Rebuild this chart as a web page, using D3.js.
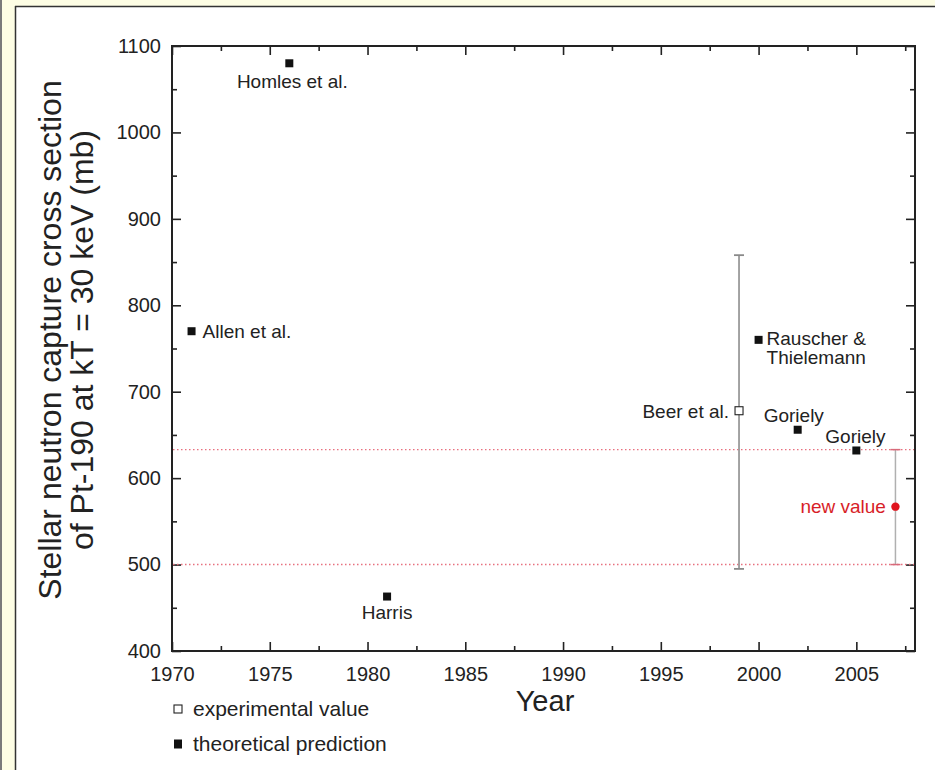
<!DOCTYPE html>
<html>
<head>
<meta charset="utf-8">
<script src="https://cdn.jsdelivr.net/npm/d3@7"></script>
<style>
  html, body { margin: 0; padding: 0; background: #ffffff; }
  svg { display: block; font-family: "Liberation Sans", Arial, sans-serif; }
</style>
</head>
<body>
<svg id="chart" width="935" height="770"></svg>
<script>
// ---------- data ----------
const theoryNames  = ["Allen et al.", "Homles et al.", "Harris", "Rauscher & Thielemann", "Goriely", "Goriely"];
const theoryYears  = [1971, 1976, 1981, 2000, 2002, 2005];
const theoryValues = [770, 1080, 463, 760, 656, 632];

const expNames  = ["Beer et al."];
const expYears  = [1999];
const expValues = [678];
const expLow    = [495];
const expHigh   = [858];

const newNames  = ["new value"];
const newYears  = [2007];
const newValues = [567];
const newLow    = [500];
const newHigh   = [633];

const bandValues = [633, 500];

const xTicks = [1970, 1975, 1980, 1985, 1990, 1995, 2000, 2005];
const yTicks = [400, 500, 600, 700, 800, 900, 1000, 1100];
const xDomain = [1970, 2008];
const yDomain = [400, 1100];

const legendLabels = ["experimental value", "theoretical prediction"];

// ---------- layout ----------
const svg = d3.select("#chart");
const W = 935, H = 770;
const L = 172, R = 915, T = 46, B = 651;

// frame
svg.append("rect").attr("x", 0).attr("y", 0).attr("width", W).attr("height", H).attr("fill", "#ffffff");
svg.append("rect").attr("x", 0).attr("y", 0).attr("width", W).attr("height", 6).attr("fill", "#fdfde4");
svg.append("rect").attr("x", 0).attr("y", 0).attr("width", 16).attr("height", H).attr("fill", "#fdfde4");
svg.append("rect").attr("x", 0).attr("y", 0).attr("width", 2).attr("height", H).attr("fill", "#7a7a7a");
svg.append("line").attr("x1", 15.5).attr("x2", 15.5).attr("y1", 6).attr("y2", H).attr("stroke", "#333").attr("stroke-width", 1.5);
svg.append("line").attr("x1", 15).attr("x2", W).attr("y1", 6.5).attr("y2", 6.5).attr("stroke", "#333").attr("stroke-width", 1.5);

const x = d3.scaleLinear().domain(xDomain).range([L, R]);
const y = d3.scaleLinear().domain(yDomain).range([B, T]);

const xMinor = d3.range(xDomain[0], xDomain[1] + 0.01, 2.5).filter(v => !xTicks.includes(v));
const yMinor = d3.range(yDomain[0], yDomain[1] + 0.01, 50).filter(v => !yTicks.includes(v));

const axisColor = "#222";

function styleAxis(g) {
  g.select(".domain").remove();
  g.attr("font-size", 20).attr("font-family", "Liberation Sans, Arial, sans-serif");
  g.selectAll(".tick line").attr("stroke", axisColor).attr("stroke-width", 1.6);
  g.selectAll("text").attr("fill", "#222").attr("font-size", 20);
}

// bottom axis (inward ticks)
svg.append("g").attr("transform", `translate(0,${B})`)
  .call(d3.axisBottom(x).tickValues(xTicks).tickFormat(d3.format("d")).tickSizeInner(-9).tickSizeOuter(0).tickPadding(16))
  .call(styleAxis)
  .call(g => g.selectAll("text").attr("dy", "0.71em"));
svg.append("g").attr("transform", `translate(0,${B})`)
  .call(d3.axisBottom(x).tickValues(xMinor).tickFormat("").tickSizeInner(-5).tickSizeOuter(0))
  .call(styleAxis);
// top axis
svg.append("g").attr("transform", `translate(0,${T})`)
  .call(d3.axisTop(x).tickValues(xTicks).tickFormat("").tickSizeInner(-9).tickSizeOuter(0))
  .call(styleAxis);
svg.append("g").attr("transform", `translate(0,${T})`)
  .call(d3.axisTop(x).tickValues(xMinor).tickFormat("").tickSizeInner(-5).tickSizeOuter(0))
  .call(styleAxis);
// left axis
svg.append("g").attr("transform", `translate(${L},0)`)
  .call(d3.axisLeft(y).tickValues(yTicks).tickFormat(d3.format("d")).tickSizeInner(-9).tickSizeOuter(0).tickPadding(11))
  .call(styleAxis);
svg.append("g").attr("transform", `translate(${L},0)`)
  .call(d3.axisLeft(y).tickValues(yMinor).tickFormat("").tickSizeInner(-5).tickSizeOuter(0))
  .call(styleAxis);
// right axis
svg.append("g").attr("transform", `translate(${R},0)`)
  .call(d3.axisRight(y).tickValues(yTicks).tickFormat("").tickSizeInner(-9).tickSizeOuter(0))
  .call(styleAxis);
svg.append("g").attr("transform", `translate(${R},0)`)
  .call(d3.axisRight(y).tickValues(yMinor).tickFormat("").tickSizeInner(-5).tickSizeOuter(0))
  .call(styleAxis);

// frame of plot
svg.append("rect").attr("x", L).attr("y", T).attr("width", R - L).attr("height", B - T)
  .attr("fill", "none").attr("stroke", axisColor).attr("stroke-width", 2);

// axis titles
svg.append("text").attr("x", 545).attr("y", 711).attr("text-anchor", "middle")
  .attr("font-size", 29).attr("fill", "#222").text("Year");

const yTitle = svg.append("text").attr("transform", `translate(0,340) rotate(-90)`)
  .attr("text-anchor", "middle").attr("font-size", 32).attr("fill", "#222");
yTitle.append("tspan").attr("x", 0).attr("y", 61).text("Stellar neutron capture cross section");
yTitle.append("tspan").attr("x", 0).attr("y", 93).text("of Pt-190 at kT = 30 keV (mb)");

// dotted band lines
svg.selectAll(".band").data(bandValues).join("line")
  .attr("x1", L + 1).attr("x2", R - 1)
  .attr("y1", d => y(d)).attr("y2", d => y(d))
  .attr("stroke", "#e8707f").attr("stroke-width", 1.4).attr("stroke-dasharray", "1.5,2.5");

// experimental error bars
expYears.forEach((yr, i) => {
  const cx = x(yr);
  svg.append("line").attr("x1", cx).attr("x2", cx).attr("y1", y(expLow[i])).attr("y2", y(expHigh[i]))
    .attr("stroke", "#9a9a9a").attr("stroke-width", 1.8);
  [expLow[i], expHigh[i]].forEach(v => {
    svg.append("line").attr("x1", cx - 5).attr("x2", cx + 5).attr("y1", y(v)).attr("y2", y(v))
      .attr("stroke", "#8a8a8a").attr("stroke-width", 1.8);
  });
  svg.append("rect").attr("x", cx - 4).attr("y", y(expValues[i]) - 4).attr("width", 8).attr("height", 8)
    .attr("fill", "#fff").attr("stroke", "#222").attr("stroke-width", 1.1);
  svg.append("text").attr("x", cx - 10).attr("y", y(expValues[i]) + 7.5).attr("text-anchor", "end")
    .attr("font-size", 19).attr("fill", "#222").text(expNames[i]);
});

// new value
newYears.forEach((yr, i) => {
  const cx = x(yr);
  svg.append("line").attr("x1", cx).attr("x2", cx).attr("y1", y(newLow[i])).attr("y2", y(newHigh[i]))
    .attr("stroke", "#b0b0b0").attr("stroke-width", 1.5);
  [newLow[i], newHigh[i]].forEach(v => {
    svg.append("line").attr("x1", cx - 5).attr("x2", cx + 5).attr("y1", y(v)).attr("y2", y(v))
      .attr("stroke", "#d86a7a").attr("stroke-width", 1.5);
  });
  svg.append("circle").attr("cx", cx).attr("cy", y(newValues[i])).attr("r", 4.2).attr("fill", "#e0141e");
  svg.append("text").attr("x", cx - 9.5).attr("y", y(newValues[i]) + 6.5).attr("text-anchor", "end")
    .attr("font-size", 19).attr("fill", "#d81e28").text(newNames[i]);
});

// theoretical points
svg.selectAll(".theory").data(theoryYears).join("rect")
  .attr("x", d => x(d) - 4).attr("y", (d, i) => y(theoryValues[i]) - 4)
  .attr("width", 8).attr("height", 8).attr("fill", "#111");

// theoretical labels (offsets relative to each point)
const labelOffsets = [
  { dx: 11, dy: 7, anchor: "start" },
  { dx: 3, dy: 25, anchor: "middle" },
  { dx: 0, dy: 22, anchor: "middle" },
  { dx: 8, dy: 5, anchor: "start" },
  { dx: -34, dy: -8, anchor: "start" },
  { dx: -31, dy: -7, anchor: "start" }
];
theoryNames.forEach((name, i) => {
  const o = labelOffsets[i];
  const t = svg.append("text").attr("x", x(theoryYears[i]) + o.dx).attr("y", y(theoryValues[i]) + o.dy)
    .attr("text-anchor", o.anchor).attr("font-size", 19).attr("fill", "#222");
  const parts = name.includes("&") ? [name.split("& ")[0] + "&", name.split("& ")[1]] : [name];
  parts.forEach((p, j) => {
    t.append("tspan").attr("x", x(theoryYears[i]) + o.dx).attr("dy", j === 0 ? 0 : 19).text(p);
  });
});

// legend
const legY = [709, 744];
legendLabels.forEach((lab, i) => {
  if (i === 0) {
    svg.append("rect").attr("x", 174).attr("y", legY[i] - 4).attr("width", 8).attr("height", 8)
      .attr("fill", "#fff").attr("stroke", "#222").attr("stroke-width", 1.1);
  } else {
    svg.append("rect").attr("x", 174).attr("y", legY[i] - 4.5).attr("width", 8).attr("height", 9).attr("fill", "#111");
  }
  svg.append("text").attr("x", 193).attr("y", legY[i] + 7).attr("font-size", 21).attr("fill", "#222").text(lab);
});
</script>
</body>
</html>
